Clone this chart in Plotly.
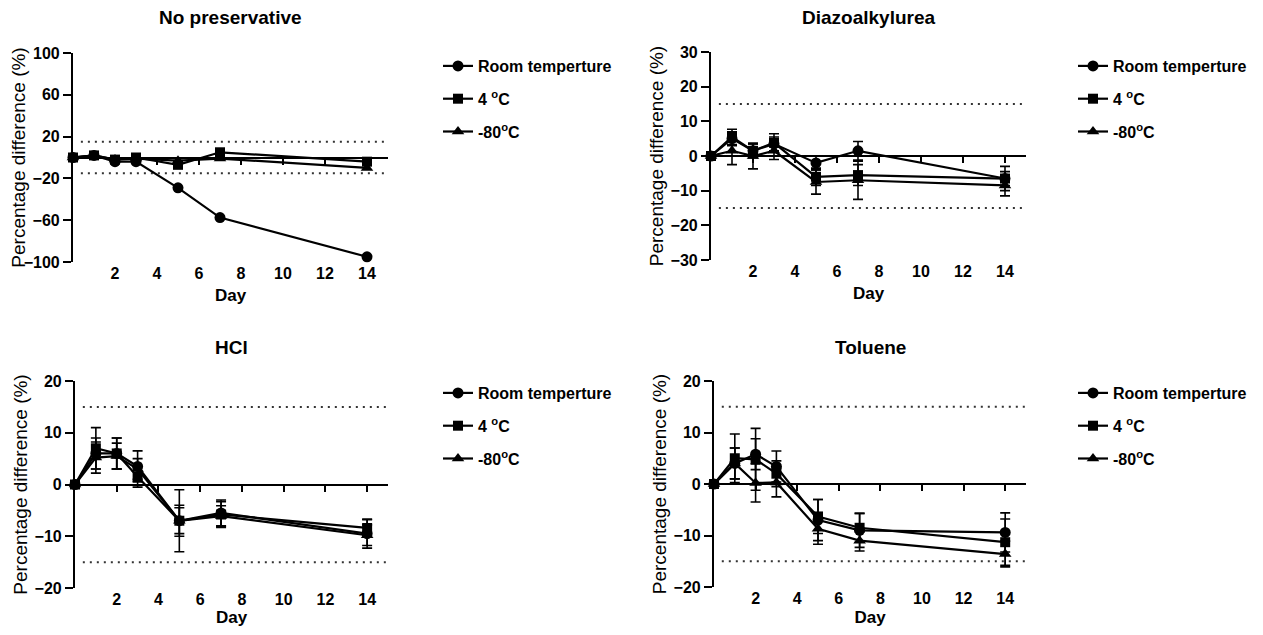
import plotly.graph_objects as go

# figure drawn inside the 8px body margin of the page
OX, OY = 8, 8
W, H = 1247, 619

days = [0, 1, 2, 3, 5, 7, 14]
series_names = ["Room temperture", "4 <sup>o</sup>C", "-80<sup>o</sup>C"]
panel_titles = ["No preservative", "Diazoalkylurea", "HCl", "Toluene"]
x_tickvals = [2, 4, 6, 8, 10, 12, 14]
limit_lines = [15, -15]

# No preservative
np_room = [0, 2, -4, -4, -29, -57.5, -95]
np_4c = [0, 2, -2, 0, -7, 5, -4]
np_m80 = [0, 2, -2, -1, -3, -1, -10]
np_yticks = [-100, -60, -20, 20, 60, 100]

# Diazoalkylurea
dz_room = [0, 5, 1.5, 3.5, -2, 1.5, -6.5]
dz_4c = [0, 5.5, 1.5, 3.8, -6, -5.5, -6.5]
dz_m80 = [0, 1.5, 0, 1.5, -7.5, -7, -8.5]
dz_room_err = [0, 2, 2, 2, 2, 2.7, 2]
dz_4c_err = [0, 2.2, 2, 2.6, 2.5, 3, 3.5]
dz_m80_err = [0, 4, 3.7, 2.5, 3.5, 5.5, 3]
dz_yticks = [-30, -20, -10, 0, 10, 20, 30]

# HCl
hc_room = [0, 6, 6, 3.5, -7, -5.5, -9.5]
hc_4c = [0, 7, 6, 1.5, -7, -5.8, -8.4]
hc_m80 = [0, 5.2, 5.5, 3, -7, -6.1, -9.8]
hc_room_err = [0, 3, 3, 3, 6, 2.5, 2.8]
hc_4c_err = [0, 4, 3, 2, 3, 2.5, 1.6]
hc_m80_err = [0, 3, 2.5, 2, 2.5, 2, 2]
hc_yticks = [-20, -10, 0, 10, 20]

# Toluene
tl_room = [0, 4, 5.8, 3.4, -7, -9, -9.4]
tl_4c = [0, 5, 4.8, 2, -6.3, -8.5, -11.3]
tl_m80 = [0, 4, 0.2, 0.3, -8.7, -11, -13.6]
tl_room_err = [0, 3, 3, 3, 4, 3.3, 3.8]
tl_4c_err = [0, 4.7, 6, 2.5, 3.3, 2.8, 4.5]
tl_m80_err = [0, 3, 3.7, 2.8, 3, 2, 2.5]
tl_yticks = [-20, -10, 0, 10, 20]

panels = [
    dict(series=[np_room, np_4c, np_m80], errs=[None, None, None], yticks=np_yticks),
    dict(series=[dz_room, dz_4c, dz_m80], errs=[dz_room_err, dz_4c_err, dz_m80_err], yticks=dz_yticks),
    dict(series=[hc_room, hc_4c, hc_m80], errs=[hc_room_err, hc_4c_err, hc_m80_err], yticks=hc_yticks),
    dict(series=[tl_room, tl_4c, tl_m80], errs=[tl_room_err, tl_4c_err, tl_m80_err], yticks=tl_yticks),
]

# plot areas in screen pixels (left, right, top, bottom)
boxes = [(73, 388, 53, 262), (711, 1026, 52, 260), (75, 388, 381, 588), (714, 1026, 381, 587)]
legend_pos = [(438, 49), (1073, 49), (438, 376), (1073, 376)]
title_y = [18, 18, 348, 348]


def px_x(px):
    return (px - OX) / W


def px_y(py):
    return (H - (py - OY)) / H


symbols = ["circle", "square", "triangle-up"]
sizes = [11, 10, 11]
FONT = "Liberation Sans, Arial, sans-serif"

fig = go.Figure()
layout = dict(
    width=W, height=H, margin=dict(l=0, r=0, t=0, b=0, autoexpand=False),
    paper_bgcolor="white", plot_bgcolor="white", showlegend=True,
    font=dict(family=FONT, color="black"),
)
annotations = []
shapes = []

for i, p in enumerate(panels):
    k = i + 1
    xs = "" if k == 1 else str(k)
    xname, yname = "x" + xs, "y" + xs
    zname = "x" + str(k + 4)
    l, r, t, b = boxes[i]
    xdom = [px_x(l), px_x(r)]
    ydom = [px_y(b), px_y(t)]
    yt = p["yticks"]
    ymin, ymax = min(yt), max(yt)
    lg = "legend" if k == 1 else "legend" + str(k)

    # invisible helper so the zero-crossing axis gets drawn
    fig.add_trace(go.Scatter(x=days, y=p["series"][0], xaxis=zname, yaxis=yname,
                             mode="lines", line=dict(width=0, color="rgba(0,0,0,0)"),
                             showlegend=False, hoverinfo="skip"))

    for j in range(3):
        err = p["errs"][j]
        fig.add_trace(go.Scatter(
            x=days, y=p["series"][j], name=series_names[j], mode="lines+markers",
            xaxis=xname, yaxis=yname, legend=lg, legendgroup=f"g{k}_{j}",
            line=dict(color="black", width=2.2),
            marker=dict(symbol=symbols[j], size=sizes[j], color="black"),
            error_y=(dict(type="data", array=err, visible=True, color="black",
                          thickness=1.6, width=5) if err is not None else None),
            cliponaxis=False,
        ))

    layout["xaxis" + xs] = dict(
        domain=xdom, anchor=yname, range=[0, 15], tickvals=x_tickvals,
        showline=False, ticks="", showgrid=False, zeroline=False, automargin=False,
        tickfont=dict(size=16, weight="bold", family=FONT),
        title=dict(text="Day", font=dict(size=17, weight="bold", family=FONT), standoff=8),
    )
    layout["yaxis" + xs] = dict(
        domain=ydom, anchor=xname, range=[ymin, ymax], tickvals=yt,
        showline=True, linewidth=2.2, linecolor="black", ticks="outside",
        ticklen=8, tickwidth=2, tickcolor="black", showgrid=False, zeroline=False,
        automargin=False,
        tickfont=dict(size=16, weight="bold", family=FONT),
        title=dict(text="Percentage difference (%)", font=dict(size=19, family=FONT), standoff=2),
    )
    zpos = ydom[0] + (0 - ymin) / (ymax - ymin) * (ydom[1] - ydom[0])
    layout["xaxis" + str(k + 4)] = dict(
        domain=xdom, overlaying=xname, anchor="free", position=zpos,
        range=[0, 15], tickvals=x_tickvals, showticklabels=False, automargin=False,
        showline=True, linewidth=2.2, linecolor="black", ticks="outside",
        ticklen=6, tickwidth=2, tickcolor="black", showgrid=False, zeroline=False,
        side="bottom",
    )
    for lim in limit_lines:
        shapes.append(dict(type="line", xref=xname + " domain", yref=yname,
                           x0=0.025, x1=1, y0=lim, y1=lim, layer="below",
                           line=dict(color="#333333", width=2, dash="2px,5px")))
    annotations.append(dict(
        text=panel_titles[i], xref="paper", yref="paper",
        x=(xdom[0] + xdom[1]) / 2, y=px_y(title_y[i]),
        xanchor="center", yanchor="middle", showarrow=False,
        font=dict(size=19, weight="bold", family=FONT),
    ))
    lx, ly = legend_pos[i]
    layout[lg] = dict(
        x=px_x(lx), y=px_y(ly), xanchor="left", yanchor="top",
        bgcolor="rgba(0,0,0,0)", tracegroupgap=9, itemwidth=30,
        font=dict(size=16, weight="bold", family=FONT),
    )

layout["annotations"] = annotations
layout["shapes"] = shapes
fig.update_layout(**layout)
fig.write_html("out.html")
